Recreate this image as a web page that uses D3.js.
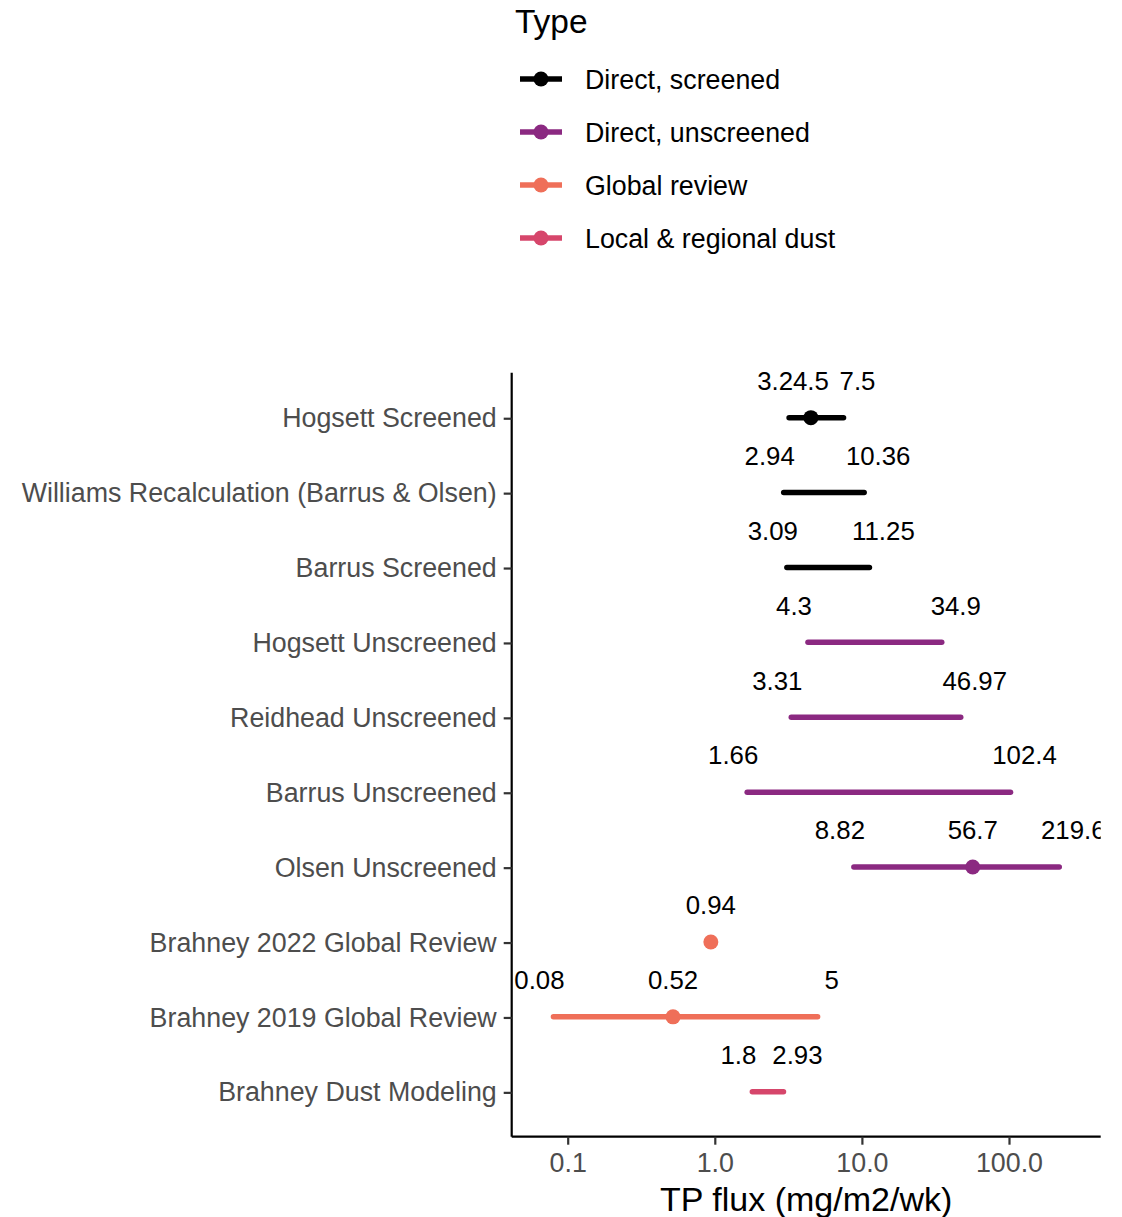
<!DOCTYPE html>
<html>
<head>
<meta charset="utf-8">
<script src="https://cdn.jsdelivr.net/npm/d3@7"></script>
<style>
  html, body { margin: 0; padding: 0; background: #ffffff; }
  svg { display: block; font-family: "Liberation Sans", Arial, sans-serif; }
</style>
</head>
<body>
<svg id="chart" width="1122" height="1217"></svg>
<script>
// Study names, top to bottom
const studies = [
  "Hogsett Screened",
  "Williams Recalculation (Barrus & Olsen)",
  "Barrus Screened",
  "Hogsett Unscreened",
  "Reidhead Unscreened",
  "Barrus Unscreened",
  "Olsen Unscreened",
  "Brahney 2022 Global Review",
  "Brahney 2019 Global Review",
  "Brahney Dust Modeling"
];
// Study type for each study
const studyType = [
  "Direct, screened", "Direct, screened", "Direct, screened",
  "Direct, unscreened", "Direct, unscreened", "Direct, unscreened", "Direct, unscreened",
  "Global review", "Global review",
  "Local & regional dust"
];
// TP flux (mg/m2/wk): low, central, high (null where not reported)
const lowValues  = [3.2, 2.94, 3.09, 4.3, 3.31, 1.66, 8.82, null, 0.08, 1.8];
const midValues  = [4.5, null, null, null, null, null, 56.7, 0.94, 0.52, null];
const highValues = [7.5, 10.36, 11.25, 34.9, 46.97, 102.4, 219.6, null, 5, 2.93];

// Legend entries and colours
const types = ["Direct, screened", "Direct, unscreened", "Global review", "Local & regional dust"];
const typeColors = ["#000000", "#8B2981", "#EF6F59", "#D6466B"];

// Axis ticks
const xTicks = [0.1, 1, 10, 100];
const xTickLabels = ["0.1", "1.0", "10.0", "100.0"];

const rows = studies.map((s, i) => ({
  study: s, type: studyType[i],
  low: lowValues[i], mid: midValues[i], high: highValues[i]
}));

const svg = d3.select("#chart");
const panel = { left: 511.7, right: 1100.7, top: 372.7, bottom: 1136.7 };

const x = d3.scaleLog()
  .domain([Math.pow(10, -1.3807), Math.pow(10, 2.6234)])
  .range([panel.left, panel.right]);

const y = d3.scalePoint()
  .domain(studies)
  .range([panel.top, panel.bottom])
  .padding(0.6);

const color = d3.scaleOrdinal().domain(types).range(typeColors);

// Clip region for the plotting panel
svg.append("defs").append("clipPath").attr("id", "panel-clip")
  .append("rect")
  .attr("x", panel.left).attr("y", 0)
  .attr("width", panel.right - panel.left).attr("height", panel.bottom);

const plot = svg.append("g").attr("clip-path", "url(#panel-clip)");

// Ranges
plot.selectAll("line.range")
  .data(rows.filter(d => d.low != null && d.high != null))
  .join("line")
  .attr("class", "range")
  .attr("x1", d => x(d.low)).attr("x2", d => x(d.high))
  .attr("y1", d => y(d.study)).attr("y2", d => y(d.study))
  .attr("stroke", d => color(d.type))
  .attr("stroke-width", 5.5)
  .attr("stroke-linecap", "round");

// Central estimates
plot.selectAll("circle.mid")
  .data(rows.filter(d => d.mid != null))
  .join("circle")
  .attr("class", "mid")
  .attr("cx", d => x(d.mid)).attr("cy", d => y(d.study))
  .attr("r", 7.5)
  .attr("fill", d => color(d.type));

// Value labels above each row; low labels shifted left, high labels right
const labelShift = 14;
const labelRise = 37;
const labels = [];
rows.forEach(d => {
  if (d.low != null) labels.push({ study: d.study, v: d.low, dx: -labelShift });
  if (d.mid != null) labels.push({ study: d.study, v: d.mid, dx: 0 });
  if (d.high != null) labels.push({ study: d.study, v: d.high, dx: labelShift });
});
plot.selectAll("text.val")
  .data(labels)
  .join("text")
  .attr("class", "val")
  .attr("x", d => x(d.v) + d.dx)
  .attr("y", d => y(d.study) - labelRise)
  .attr("dy", "0.36em")
  .attr("text-anchor", "middle")
  .attr("font-size", 25.8)
  .attr("fill", "#000")
  .text(d => String(d.v));

// Y axis
const yAxis = svg.append("g")
  .attr("transform", `translate(${panel.left},0.6)`)
  .call(d3.axisLeft(y).tickSize(8).tickPadding(7));
yAxis.select(".domain").attr("stroke", "#000").attr("stroke-width", 2.2)
  .attr("d", `M0,${panel.top - 0.6}V${panel.bottom - 0.6}`);
yAxis.selectAll(".tick line").attr("stroke", "#333").attr("stroke-width", 2.2);
yAxis.selectAll(".tick text").attr("font-size", 26.8).attr("fill", "#4D4D4D")
  .attr("font-family", "Liberation Sans, Arial, sans-serif");

// X axis
const xAxis = svg.append("g")
  .attr("transform", `translate(0,${panel.bottom})`)
  .call(d3.axisBottom(x).tickValues(xTicks)
    .tickFormat((d, i) => xTickLabels[i]).tickSize(8).tickPadding(8));
xAxis.select(".domain").attr("stroke", "#000").attr("stroke-width", 2.2)
  .attr("d", `M${panel.left},0H${panel.right}`);
xAxis.selectAll(".tick line").attr("stroke", "#333").attr("stroke-width", 2.2);
xAxis.selectAll(".tick text").attr("font-size", 26.8).attr("fill", "#4D4D4D")
  .attr("font-family", "Liberation Sans, Arial, sans-serif");

// X axis title
svg.append("text")
  .attr("x", (panel.left + panel.right) / 2)
  .attr("y", 1199).attr("dy", "0.36em")
  .attr("text-anchor", "middle")
  .attr("font-size", 34).attr("fill", "#000")
  .text("TP flux (mg/m2/wk)");

// Legend
const legend = svg.append("g");
legend.append("text")
  .attr("x", 515).attr("y", 21).attr("dy", "0.36em")
  .attr("font-size", 33.5).attr("fill", "#000")
  .text("Type");
const legendY = d3.scalePoint().domain(types).range([79, 238]);
const items = legend.selectAll("g.item").data(types).join("g")
  .attr("class", "item")
  .attr("transform", d => `translate(0,${legendY(d)})`);
items.append("line")
  .attr("x1", 520).attr("x2", 562).attr("y1", 0).attr("y2", 0)
  .attr("stroke", d => color(d)).attr("stroke-width", 5.5);
items.append("circle")
  .attr("cx", 541).attr("cy", 0).attr("r", 7.5)
  .attr("fill", d => color(d));
items.append("text")
  .attr("x", 585).attr("y", 0).attr("dy", "0.36em")
  .attr("font-size", 26.8).attr("fill", "#000")
  .text(d => d);
</script>
</body>
</html>
